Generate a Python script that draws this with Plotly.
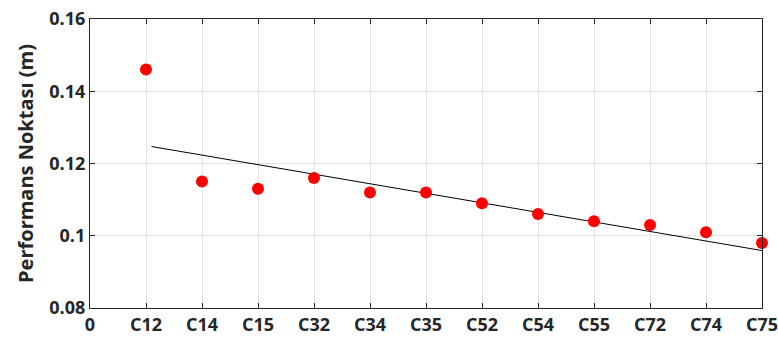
import plotly.graph_objects as go

# Categories along the x axis (position 0 is the origin label)
tick_labels = ["0", "C12", "C14", "C15", "C32", "C34", "C35",
               "C52", "C54", "C55", "C72", "C74", "C75"]
categories = ["C12", "C14", "C15", "C32", "C34", "C35",
              "C52", "C54", "C55", "C72", "C74", "C75"]
positions = list(range(1, len(categories) + 1))

# Performance point values (m)
performance = [0.146, 0.115, 0.113, 0.116, 0.112, 0.112,
               0.109, 0.106, 0.104, 0.103, 0.101, 0.098]

# Linear trend line endpoints
trend_x = [1.1, 12]
trend_y = [0.1247, 0.0959]

font_family = "'Open Sans', sans-serif"
ink = "#262626"

fig = go.Figure()

fig.add_trace(go.Scatter(
    x=trend_x, y=trend_y, mode="lines",
    line=dict(color="black", width=1),
    showlegend=False, hoverinfo="skip",
))

fig.add_trace(go.Scatter(
    x=positions, y=performance, mode="markers",
    marker=dict(color="#ff0000", size=12, line=dict(width=0)),
    text=categories, showlegend=False, cliponaxis=False,
))

axis_common = dict(
    showline=True, linecolor=ink, linewidth=1.2, mirror="ticks",
    ticks="inside", ticklen=5, tickcolor=ink, tickwidth=1,
    showgrid=True, gridcolor="#e3e3e3", gridwidth=1,
    zeroline=False, automargin=False,
    tickfont=dict(family=font_family, size=18, color=ink, weight="bold"),
)

fig.update_xaxes(
    range=[0, 12],
    tickmode="array", tickvals=list(range(len(tick_labels))), ticktext=tick_labels,
    ticklabeloverflow="allow",
    **axis_common,
)
fig.update_yaxes(
    range=[0.08, 0.16],
    tickmode="array", tickvals=[0.08, 0.10, 0.12, 0.14, 0.16],
    ticktext=["0.08", "0.1", "0.12", "0.14", "0.16"],
    ticklabeloverflow="allow",
    title=dict(text="Performans Noktası (m)",
               font=dict(family=font_family, size=20, color=ink, weight="bold"),
               standoff=10),
    **axis_common,
)

fig.update_layout(
    width=778, height=341,
    margin=dict(l=90, r=16, t=19, b=33),
    plot_bgcolor="white", paper_bgcolor="white",
    font=dict(family=font_family, color=ink),
)

fig.write_html("out.html")
